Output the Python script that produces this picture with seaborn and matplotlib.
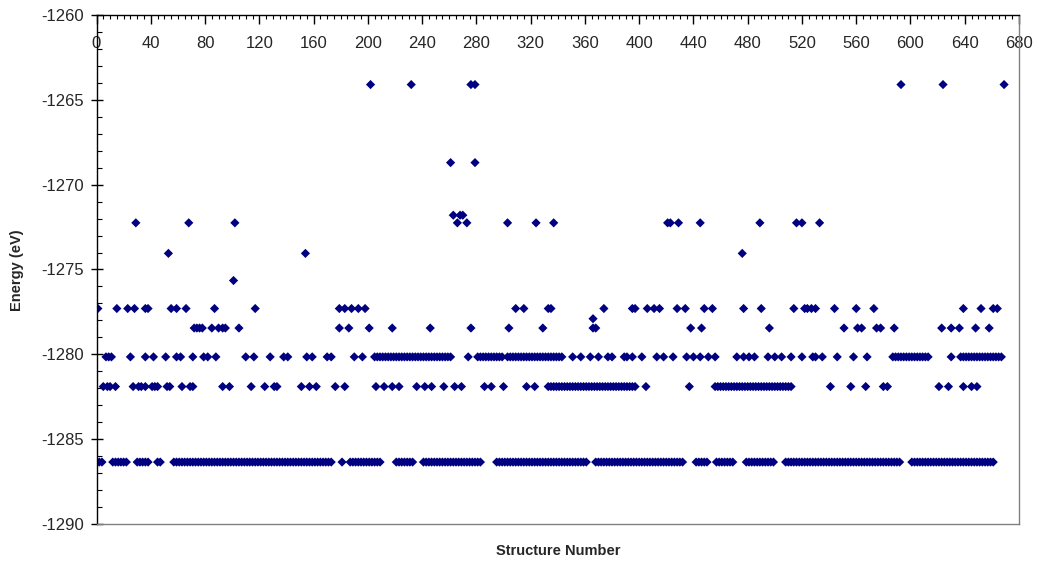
import numpy as np
import pandas as pd
import matplotlib
matplotlib.use("Agg")
import matplotlib.pyplot as plt
from matplotlib.ticker import MultipleLocator
import seaborn as sns

# ---------------- data ----------------
# energy levels (eV)
E_BASE = -1286.35
E_1282 = -1281.9
E_1280 = -1280.15
E_1278 = -1278.45
E_1278B = -1277.9
E_1277 = -1277.3
E_1276 = -1275.65
E_1274 = -1274.05
E_1272 = -1272.25
E_1272B = -1271.8
E_1269 = -1268.7
E_1264 = -1264.1

# dense runs of structure numbers (start, end) on the lowest level
base_runs = [(2, 5), (12, 23), (30, 39), (45, 48), (57, 174), (181, 181),
             (187, 210), (221, 233), (241, 284), (295, 361), (368, 432),
             (442, 450), (457, 469), (479, 500), (508, 593), (601, 662)]

s1280 = [7, 9, 11, 25, 36, 42, 51, 59, 62, 71, 79, 82, 88, 110, 116, 128,
         138, 141, 155, 159, 170, 173, 190, 196, 274, 351, 357, 364, 370,
         377, 380, 389, 391, 395, 402, 413, 418, 425, 435, 440, 445, 451,
         456, 472, 477, 481, 485, 495, 500, 505, 512, 520, 528, 530, 535,
         546, 558, 568, 630]
runs1280 = [(205, 262), (281, 300), (303, 343), (587, 613), (637, 667)]

s1282 = [5, 8, 10, 14, 27, 31, 33, 36, 41, 43, 45, 52, 54, 63, 69, 71, 93,
         98, 114, 124, 131, 133, 151, 157, 162, 176, 183, 206, 212, 218, 223,
         236, 242, 247, 256, 264, 269, 286, 291, 300, 317, 323, 405, 437,
         541, 556, 567, 580, 583, 621, 628, 639, 645, 649]
runs1282 = [(333, 397), (456, 513)]

s1278 = [72, 74, 76, 78, 85, 90, 93, 95, 105, 179, 186, 201, 218, 246, 276,
         304, 329, 366, 368, 438, 446, 496, 551, 561, 564, 575, 578, 588,
         623, 630, 636, 648, 658]
s1278b = [366]
s1277 = [1, 15, 23, 28, 36, 38, 55, 59, 66, 87, 117, 179, 183, 188, 193,
         198, 309, 315, 333, 335, 374, 395, 397, 406, 411, 415, 428, 434,
         448, 454, 477, 490, 514, 522, 524, 527, 530, 544, 560, 573, 639,
         652, 661, 664]
s1276 = [101]
s1274 = [53, 154, 476]
s1272 = [29, 68, 102, 266, 273, 303, 324, 337, 421, 423, 429, 445, 489,
         516, 520, 533]
s1272b = [263, 268, 270]
s1269 = [261, 279]
s1264 = [202, 232, 276, 279, 593, 624, 669]

x_ticks = list(range(0, 681, 40))
y_ticks = [-1290, -1285, -1280, -1275, -1270, -1265, -1260]


def expand(runs):
    out = []
    for a, b in runs:
        out.extend(range(a, b + 1, 2))
    return out


groups = [
    (expand(base_runs), E_BASE),
    (s1280 + expand(runs1280), E_1280),
    (s1282 + expand(runs1282), E_1282),
    (s1278, E_1278), (s1278b, E_1278B), (s1277, E_1277), (s1276, E_1276),
    (s1274, E_1274), (s1272, E_1272), (s1272b, E_1272B), (s1269, E_1269),
    (s1264, E_1264),
]
rows = []
for xs, e in groups:
    rows.extend((x, e) for x in xs)
df = pd.DataFrame(rows, columns=["structure", "energy"])

# ---------------- plot ----------------
sns.set_theme(style="white")
plt.rcParams["font.family"] = ["Liberation Sans", "DejaVu Sans"]

fig = plt.figure(figsize=(10.39, 5.62), dpi=100)
ax = fig.add_axes([96.5 / 1039, 1 - 524 / 562, (1019 - 96.5) / 1039, (524 - 15) / 562])

sns.scatterplot(data=df, x="structure", y="energy", marker="D", s=22,
                color="#000080", edgecolor="none", linewidth=0, ax=ax,
                legend=False)

ax.set_xlim(0, 680)
ax.set_ylim(-1290, -1260)

ax.xaxis.tick_top()
ax.set_xticks(x_ticks)
ax.set_xticklabels([str(v) for v in x_ticks])
ax.xaxis.set_minor_locator(MultipleLocator(5))
ax.tick_params(axis="x", which="major", direction="in", length=6.5, width=1,
               color="black", top=True, bottom=False, labeltop=True,
               labelbottom=False, labelsize=12, pad=-26)
ax.tick_params(axis="x", which="minor", direction="in", length=3, width=0.8,
               color="black", top=True, bottom=False)

ax.set_yticks(y_ticks)
ax.set_yticklabels([str(v) for v in y_ticks])
ax.yaxis.set_minor_locator(MultipleLocator(1))
ax.tick_params(axis="y", which="major", direction="inout", length=8.6, width=1,
               color="black", left=True, labelsize=12, pad=5)
ax.tick_params(axis="y", which="minor", direction="in", length=3.6, width=0.8,
               color="black", left=True)

ax.set_xlabel("")
ax.set_ylabel("")
for side in ["top", "left"]:
    ax.spines[side].set_color("black")
    ax.spines[side].set_linewidth(1)
for side in ["right", "bottom"]:
    ax.spines[side].set_color("#808080")
    ax.spines[side].set_linewidth(1)

fig.text(557.75 / 1039, 1 - 551 / 562, "Structure Number", ha="center",
         va="center", fontsize=10.5, fontweight="bold")
fig.text(17 / 1039, 1 - 270 / 562, "Energy (eV)", ha="center", va="center",
         rotation=90, fontsize=10.5, fontweight="bold")

fig.savefig("out.png", dpi=100)
